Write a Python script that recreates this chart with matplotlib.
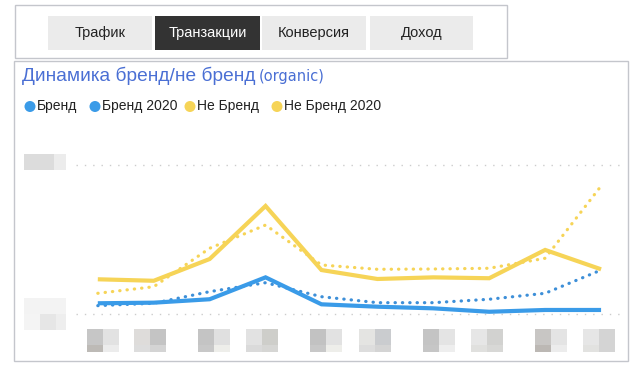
import matplotlib
matplotlib.use("Agg")
import matplotlib.pyplot as plt
from matplotlib.patches import Rectangle, Ellipse
import matplotlib.transforms as mtransforms

# ---- data ----
periods = list(range(10))
brand = [7.2, 7.6, 9.9, 24.6, 6.5, 4.9, 3.8, 1.5, 2.7, 2.7]
brand_2020 = [5.6, 7.2, 15.0, 21.0, 11.6, 7.6, 7.6, 9.9, 13.9, 29.5]
nonbrand = [23.3, 22.3, 36.9, 72.5, 29.5, 23.5, 24.6, 24.0, 43.0, 30.0]
nonbrand_2020 = [13.9, 18.3, 44.1, 59.7, 32.9, 30.0, 30.2, 30.7, 37.4, 85.9]
gridvals = [0, 100]
tabs = ["Трафик", "Транзакции", "Конверсия", "Доход"]
legend_labels = ["Бренд", "Бренд 2020", "Не Бренд", "Не Бренд 2020"]
title = "Динамика бренд/не бренд"
title_sub = "(organic)"

BLUE = "#3a9be8"
YELLOW = "#f6d457"
FONT = ["Liberation Sans Narrow", "Liberation Sans", "DejaVu Sans"]

W, H = 640, 374
fig = plt.figure(figsize=(W / 100, H / 100), dpi=100)
fig.patch.set_facecolor("white")


def fx(x):
    return x / W


def fy(y):
    return 1 - y / H


def rect_px(x0, y0, x1, y1, **kw):
    fig.patches.append(Rectangle((fx(x0), fy(y1)), fx(x1) - fx(x0), fy(y0) - fy(y1),
                                 transform=fig.transFigure, figure=fig, **kw))


# ---- tab box ----
rect_px(15, 5, 507, 58, facecolor="none", edgecolor="#c4c6cc", lw=1)
tab_x = [(48, 152), (155, 260), (262, 366), (370, 473)]
for i, (t, (x0, x1)) in enumerate(zip(tabs, tab_x)):
    active = i == 1
    rect_px(x0, 16, x1, 50, facecolor="#333333" if active else "#ebebeb", edgecolor="none")
    fig.text(fx((x0 + x1) / 2), fy(33), t, ha="center", va="center",
             color="white" if active else "#222222", fontsize=10.5, family=FONT)

# ---- panel ----
rect_px(14, 61, 628, 361, facecolor="none", edgecolor="#c4c6cc", lw=1)
t1 = fig.text(fx(22), fy(76), title, ha="left", va="center", color="#4a6fd4",
              fontsize=13.8, family=FONT)
fig.canvas.draw()
bb = t1.get_window_extent()
fig.text(bb.x1 / W + fx(3), fy(77), title_sub, ha="left", va="center",
         color="#4a6fd4", fontsize=10.5, family=["DejaVu Sans"])

# legend
leg_cols = [BLUE, BLUE, YELLOW, YELLOW]
leg_x = [30, 95, 190, 277]
for lab, c, x in zip(legend_labels, leg_cols, leg_x):
    fig.patches.append(Ellipse((fx(x), fy(106.5)), 11 / W, 11 / H,
                               transform=fig.transFigure, figure=fig,
                               facecolor=c, edgecolor="none"))
    fig.text(fx(x + 7), fy(106.5), lab, ha="left", va="center", color="#222222",
             fontsize=10, family=FONT)

# ---- chart axes ----
ax = fig.add_axes([fx(76), fy(314), fx(624) - fx(76), fy(165) - fy(314)])
ax.set_xlim(-0.39, 9.41)
ax.set_ylim(gridvals[0], gridvals[1])
for s in ax.spines.values():
    s.set_visible(False)
ax.set_xticks([])
ax.set_yticks([])
for g in gridvals:
    ax.axhline(g, color="#cccccc", lw=1, ls=(0, (1, 5)), zorder=0, clip_on=False)

dot = (0, (0.1, 2.2))
ax.plot(periods, nonbrand_2020, color=YELLOW, lw=2.3, ls=dot, dash_capstyle="round",
        clip_on=False, zorder=2)
ax.plot(periods, brand_2020, color="#3d8fd8", lw=2.3, ls=dot, dash_capstyle="round",
        clip_on=False, zorder=2)
ax.plot(periods, nonbrand, color=YELLOW, lw=3, solid_capstyle="butt",
        solid_joinstyle="miter", clip_on=False, zorder=3)
ax.plot(periods, brand, color=BLUE, lw=3, solid_capstyle="butt",
        solid_joinstyle="miter", clip_on=False, zorder=3)

# ---- pixelated (blurred) axis labels ----
trans = mtransforms.blended_transform_factory(ax.transData, fig.transFigure)
label_offsets = [5, -4, 4, -4, 5, -2, 6, -2, 6, -2]
shades = [("#c6c6c6", "#e2e2e2", "#bdbab6", "#ececec"),
          ("#dedcda", "#c4c4c4", "#dddddd", "#d4d4d4"),
          ("#c4c4c4", "#e0e0e0", "#c8c8c8", "#eeeeea"),
          ("#e2e2e2", "#cececa", "#dadada", "#d6d6d4"),
          ("#c2c2c2", "#e2e2e2", "#c8c8c8", "#eeeeea"),
          ("#e4e4e2", "#cacccf", "#dddddd", "#d4d4d4"),
          ("#c4c4c4", "#e4e4e4", "#c6c6c6", "#eeeeee"),
          ("#e6e6e6", "#d2d2d0", "#e0e0de", "#d8d8d6"),
          ("#c8c6c4", "#e4e4e4", "#bcb8b4", "#ececec"),
          ("#e6e6e6", "#d4d4d4", "#e2e2e0", "#d4d4d4")]
step_px = (601 - 98) / 9
for i, off in enumerate(label_offsets):
    cx = periods[i] + off / step_px
    hw = 16 / step_px
    c = shades[i]
    cells = [(cx - hw, cx, 329, 345, c[0]), (cx, cx + hw, 329, 345, c[1]),
             (cx - hw, cx, 345, 352, c[2]), (cx, cx + hw, 345, 352, c[3])]
    for xa, xb, ya, yb, col in cells:
        ax.add_patch(Rectangle((xa, fy(yb)), xb - xa, fy(ya) - fy(yb), transform=trans,
                               facecolor=col, edgecolor="none", clip_on=False))

# y labels blurred
rect_px(24, 154, 54, 170, facecolor="#dcdcdc", edgecolor="none")
rect_px(54, 154, 66, 170, facecolor="#ececec", edgecolor="none")
rect_px(24, 298, 66, 314, facecolor="#f3f3f3", edgecolor="none")
rect_px(24, 314, 40, 330, facecolor="#f4f4f4", edgecolor="none")
rect_px(40, 314, 56, 330, facecolor="#e6e6e6", edgecolor="none")
rect_px(56, 314, 66, 330, facecolor="#eeeeee", edgecolor="none")

fig.savefig("out.png", dpi=100, facecolor="white")
